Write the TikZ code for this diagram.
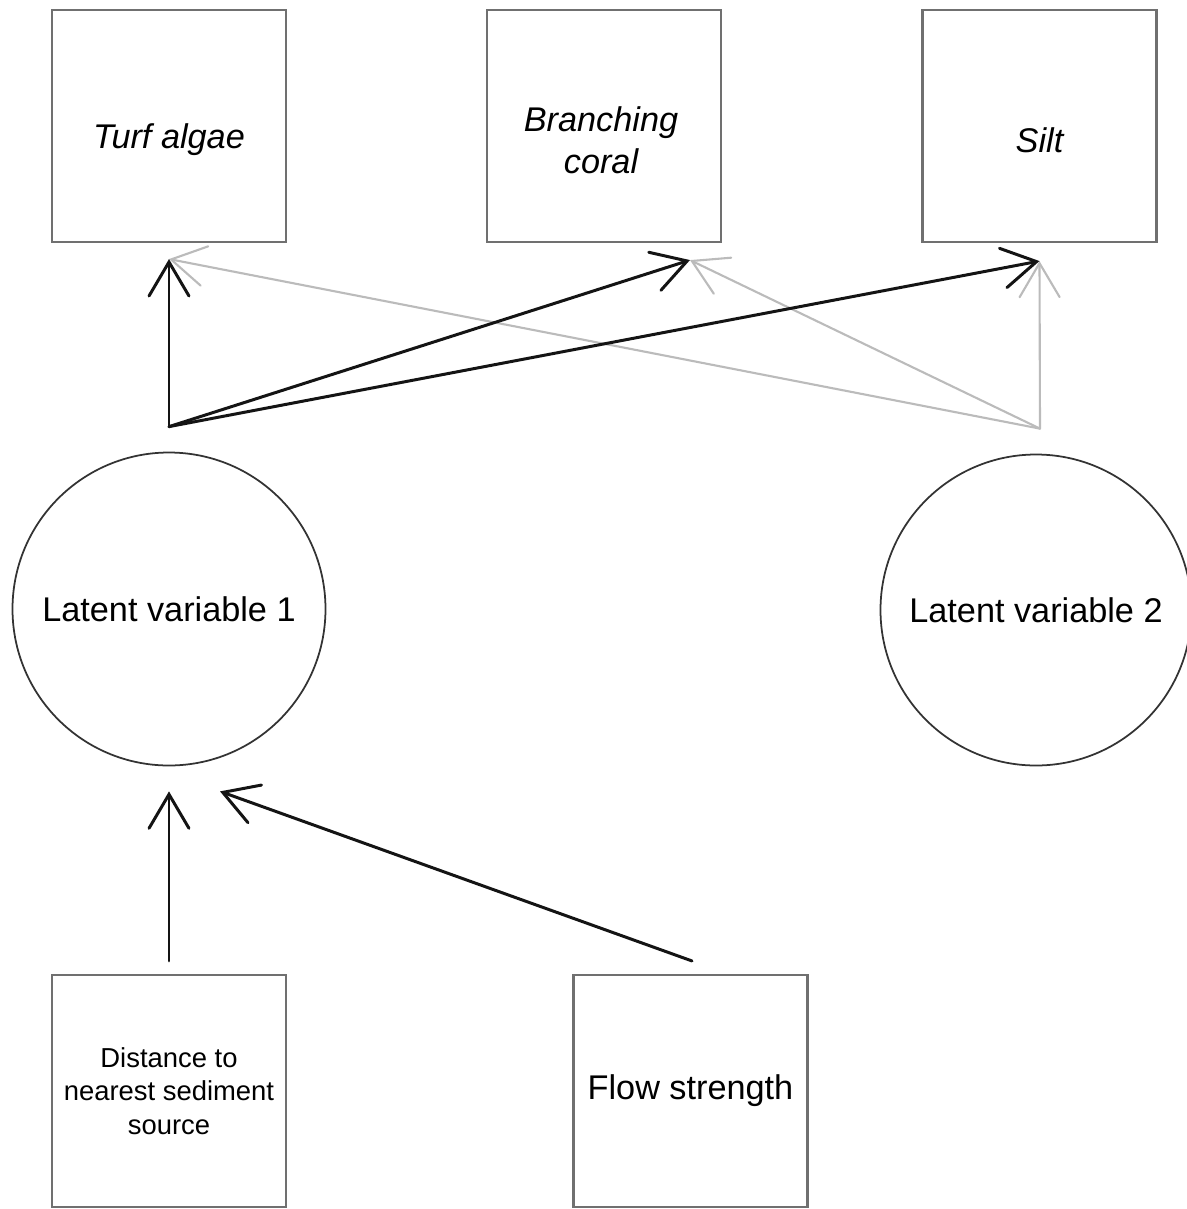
\documentclass[tikz,border=0pt]{standalone}
\usepackage{fontspec}
\setmainfont{Liberation Sans}
\usetikzlibrary{positioning,calc,arrows.meta}
\definecolor{boxgray}{HTML}{707070}
\definecolor{fadegray}{HTML}{BBBBBB}
\definecolor{ringgray}{HTML}{333333}

\begin{document}
\begin{tikzpicture}[
        obsbox/.style={draw=boxgray, line width=1.2pt, minimum width=4.68cm, minimum height=4.64cm, align=center, inner sep=0pt, font=\fontsize{19.5}{24}\selectfont},
        resptext/.style={yshift=-0.28cm, align=center, inner sep=0pt, font=\fontsize{19.5}{24}\selectfont\itshape},
        latent/.style={draw=ringgray, circle, line width=1pt, align=center, inner sep=0pt, font=\fontsize{19.5}{24}\selectfont},
        solidpath/.style={draw=black!92, line width=1.7pt, line cap=round, -{Straight Barb[length=6.8mm, width=8mm, line cap=round]}},
        fadedpath/.style={draw=fadegray, line width=1.2pt, line cap=round, -{Straight Barb[length=6.8mm, width=8mm, line cap=round]}}
    ]
        \useasboundingbox (0,0) rectangle (23.74,-24.18);

        % Responses
        \node[obsbox, label={[resptext]center:Turf algae}] (turf) at (3.38,-2.52) {};
        \node[obsbox, label={[resptext, xshift=-0.06cm]center:Branching\\coral}] (coral) at (12.08,-2.52) {};
        \node[obsbox, label={[resptext]center:Silt}] (silt) at (20.79,-2.52) {};

        % Latent variables
        \node[latent, minimum size=6.26cm] (lv1) at (3.38,-12.18) {Latent variable 1};
        \node[latent, minimum size=6.22cm] (lv2) at (20.72,-12.20) {Latent variable 2};

        % Predictors
        \node[obsbox, font=\fontsize{15.6}{19}\selectfont] (dist) at (3.38,-21.82) {\raisebox{-0.08cm}{\parbox{4.5cm}{\centering Distance to\\nearest sediment\\source}}};
        \node[obsbox] (flow) at (13.81,-21.82) {Flow strength};

        % Connector ends
        \coordinate (lv1out) at ($(lv1.north)+(0,0.5)$);
        \coordinate (lv2out) at ($(lv2.north)+(0.08,0.5)$);
        \coordinate (turfin) at ($(turf.south)+(0,-0.32)$);
        \coordinate (coralin) at ($(coral.south)+(1.72,-0.34)$);
        \coordinate (siltin) at ($(silt.south)+(0,-0.36)$);
        \coordinate (lv1inA) at ($(lv1.south)+(0,-0.5)$);
        \coordinate (lv1inB) at ($(lv1.south)+(1.02,-0.5)$);
        \coordinate (distout) at ($(dist.north)+(0,0.26)$);
        \coordinate (flowout) at ($(flow.north)+(0.03,0.26)$);

        % Latent variable 2 loadings
        \foreach \t in {turfin, coralin, siltin} {
            \draw[fadedpath] (lv2out) -- (\t);
        }

        % Latent variable 1 loadings
        \foreach \t in {turfin, coralin, siltin} {
            \draw[solidpath] (lv1out) -- (\t);
        }

        % Predictor effects
        \draw[solidpath] (distout) -- (lv1inA);
        \draw[solidpath] (flowout) -- (lv1inB);
    \end{tikzpicture}
\end{document}
